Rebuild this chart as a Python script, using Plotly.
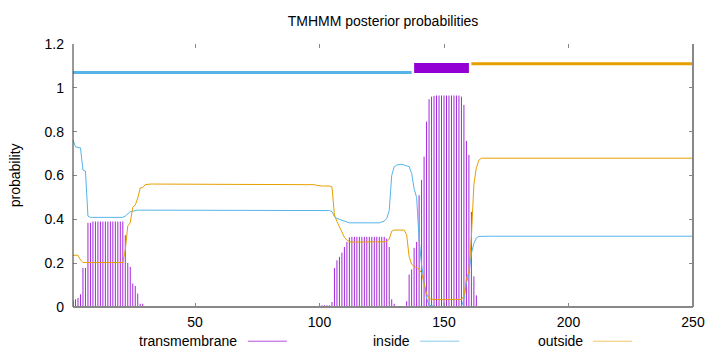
import plotly.graph_objects as go

# ---------------- data ----------------
residues = list(range(1, 251))

prob_transmembrane = [
    0.03, 0.035, 0.041, 0.058, 0.178, 0.178, 0.384, 0.384, 0.39, 0.39,
    0.39, 0.39, 0.39, 0.39, 0.39, 0.39, 0.39, 0.39, 0.39, 0.39,
    0.39, 0.328, 0.201, 0.183, 0.107, 0.096, 0.061, 0.015, 0.015, 0,
    0, 0, 0, 0, 0, 0, 0, 0, 0, 0,
    0, 0, 0, 0, 0, 0, 0, 0, 0, 0,
    0, 0, 0, 0, 0, 0, 0, 0, 0, 0,
    0, 0, 0, 0, 0, 0, 0, 0, 0, 0,
    0, 0, 0, 0, 0, 0, 0, 0, 0, 0,
    0, 0, 0, 0, 0, 0, 0, 0, 0, 0,
    0, 0, 0, 0, 0, 0, 0, 0, 0, 0.008,
    0.008, 0.008, 0.008, 0.008, 0.023, 0.178, 0.213, 0.229, 0.248, 0.274,
    0.297, 0.317, 0.32, 0.32, 0.32, 0.32, 0.32, 0.32, 0.32, 0.32,
    0.32, 0.32, 0.32, 0.32, 0.32, 0.32, 0.312, 0.274, 0.035, 0.015,
    0, 0, 0, 0, 0.026, 0.148, 0.171, 0.27, 0.297, 0.51,
    0.579, 0.686, 0.846, 0.948, 0.96, 0.963, 0.965, 0.965, 0.965, 0.965,
    0.965, 0.965, 0.965, 0.965, 0.965, 0.965, 0.96, 0.922, 0.758, 0.694,
    0.434, 0.14, 0.053, 0, 0, 0, 0, 0, 0, 0,
    0, 0, 0, 0, 0, 0, 0, 0, 0, 0,
    0, 0, 0, 0, 0, 0, 0, 0, 0, 0,
    0, 0, 0, 0, 0, 0, 0, 0, 0, 0,
    0, 0, 0, 0, 0, 0, 0, 0, 0, 0,
    0, 0, 0, 0, 0, 0, 0, 0, 0, 0,
    0, 0, 0, 0, 0, 0, 0, 0, 0, 0,
    0, 0, 0, 0, 0, 0, 0, 0, 0, 0,
    0, 0, 0, 0, 0, 0, 0, 0, 0, 0,
]

prob_inside = [
    0.762, 0.731, 0.728, 0.726, 0.625, 0.62, 0.415, 0.409, 0.409, 0.409,
    0.409, 0.409, 0.409, 0.409, 0.409, 0.409, 0.409, 0.409, 0.409, 0.409,
    0.409, 0.415, 0.425, 0.435, 0.437, 0.44, 0.442, 0.442, 0.442, 0.442,
    0.442, 0.442, 0.442, 0.442, 0.442, 0.442, 0.442, 0.442, 0.442, 0.442,
    0.442, 0.442, 0.442, 0.442, 0.442, 0.442, 0.442, 0.442, 0.442, 0.442,
    0.442, 0.442, 0.442, 0.442, 0.442, 0.442, 0.442, 0.442, 0.442, 0.442,
    0.442, 0.442, 0.442, 0.442, 0.442, 0.442, 0.442, 0.442, 0.442, 0.442,
    0.442, 0.442, 0.442, 0.442, 0.442, 0.442, 0.442, 0.442, 0.442, 0.442,
    0.442, 0.442, 0.442, 0.442, 0.442, 0.442, 0.442, 0.442, 0.442, 0.442,
    0.442, 0.442, 0.442, 0.442, 0.442, 0.442, 0.442, 0.44, 0.44, 0.44,
    0.44, 0.44, 0.44, 0.44, 0.435, 0.412, 0.404, 0.4, 0.395, 0.39,
    0.386, 0.384, 0.384, 0.384, 0.384, 0.384, 0.384, 0.384, 0.384, 0.384,
    0.384, 0.384, 0.384, 0.384, 0.388, 0.392, 0.404, 0.44, 0.6, 0.64,
    0.648, 0.651, 0.651, 0.648, 0.645, 0.64, 0.61, 0.54, 0.5, 0.31,
    0.19, 0.11, 0.04, 0.008, 0.005, 0.002, 0.002, 0.002, 0.002, 0.002,
    0.002, 0.002, 0.002, 0.002, 0.002, 0.002, 0.002, 0.035, 0.11, 0.15,
    0.245, 0.29, 0.315, 0.322, 0.323, 0.323, 0.323, 0.323, 0.323, 0.323,
    0.323, 0.323, 0.323, 0.323, 0.323, 0.323, 0.323, 0.323, 0.323, 0.323,
    0.323, 0.323, 0.323, 0.323, 0.323, 0.323, 0.323, 0.323, 0.323, 0.323,
    0.323, 0.323, 0.323, 0.323, 0.323, 0.323, 0.323, 0.323, 0.323, 0.323,
    0.323, 0.323, 0.323, 0.323, 0.323, 0.323, 0.323, 0.323, 0.323, 0.323,
    0.323, 0.323, 0.323, 0.323, 0.323, 0.323, 0.323, 0.323, 0.323, 0.323,
    0.323, 0.323, 0.323, 0.323, 0.323, 0.323, 0.323, 0.323, 0.323, 0.323,
    0.323, 0.323, 0.323, 0.323, 0.323, 0.323, 0.323, 0.323, 0.323, 0.323,
    0.323, 0.323, 0.323, 0.323, 0.323, 0.323, 0.323, 0.323, 0.323, 0.323,
]

prob_outside = [
    0.236, 0.236, 0.236, 0.215, 0.203, 0.203, 0.203, 0.203, 0.203, 0.203,
    0.203, 0.203, 0.203, 0.203, 0.203, 0.203, 0.203, 0.203, 0.203, 0.203,
    0.203, 0.26, 0.37, 0.385, 0.455, 0.465, 0.497, 0.543, 0.545, 0.558,
    0.561, 0.561, 0.561, 0.561, 0.561, 0.561, 0.561, 0.561, 0.561, 0.561,
    0.561, 0.561, 0.561, 0.561, 0.561, 0.561, 0.561, 0.561, 0.561, 0.561,
    0.561, 0.561, 0.561, 0.561, 0.561, 0.561, 0.561, 0.561, 0.561, 0.561,
    0.561, 0.561, 0.561, 0.561, 0.561, 0.561, 0.561, 0.561, 0.561, 0.561,
    0.561, 0.561, 0.561, 0.561, 0.561, 0.561, 0.561, 0.561, 0.561, 0.561,
    0.561, 0.561, 0.561, 0.561, 0.561, 0.561, 0.561, 0.561, 0.561, 0.561,
    0.561, 0.561, 0.561, 0.561, 0.561, 0.561, 0.561, 0.558, 0.555, 0.552,
    0.552, 0.552, 0.552, 0.552, 0.548, 0.42, 0.39, 0.366, 0.34, 0.318,
    0.305, 0.298, 0.296, 0.296, 0.296, 0.296, 0.296, 0.296, 0.296, 0.296,
    0.296, 0.296, 0.296, 0.296, 0.296, 0.296, 0.298, 0.31, 0.346, 0.351,
    0.351, 0.351, 0.351, 0.351, 0.33, 0.23, 0.195, 0.185, 0.18, 0.172,
    0.155, 0.105, 0.06, 0.038, 0.035, 0.034, 0.034, 0.034, 0.034, 0.034,
    0.034, 0.034, 0.034, 0.034, 0.034, 0.034, 0.034, 0.05, 0.13, 0.16,
    0.32, 0.56, 0.635, 0.67, 0.679, 0.679, 0.679, 0.679, 0.679, 0.679,
    0.679, 0.679, 0.679, 0.679, 0.679, 0.679, 0.679, 0.679, 0.679, 0.679,
    0.679, 0.679, 0.679, 0.679, 0.679, 0.679, 0.679, 0.679, 0.679, 0.679,
    0.679, 0.679, 0.679, 0.679, 0.679, 0.679, 0.679, 0.679, 0.679, 0.679,
    0.679, 0.679, 0.679, 0.679, 0.679, 0.679, 0.679, 0.679, 0.679, 0.679,
    0.679, 0.679, 0.679, 0.679, 0.679, 0.679, 0.679, 0.679, 0.679, 0.679,
    0.679, 0.679, 0.679, 0.679, 0.679, 0.679, 0.679, 0.679, 0.679, 0.679,
    0.679, 0.679, 0.679, 0.679, 0.679, 0.679, 0.679, 0.679, 0.679, 0.679,
    0.679, 0.679, 0.679, 0.679, 0.679, 0.679, 0.679, 0.679, 0.679, 0.679,
]

# predicted topology drawn above the curves
region_names = ["inside", "TMhelix", "outside"]
region_start = [1, 138, 161]
region_end = [137, 160, 250]
region_level = [1.07, 1.09, 1.11]

x_ticks = [50, 100, 150, 200, 250]
y_ticks = [0, 0.2, 0.4, 0.6, 0.8, 1.0, 1.2]
y_tick_labels = ["0", "0.2", "0.4", "0.6", "0.8", "1", "1.2"]

# ---------------- styles ----------------
FONT = "Liberation Sans, Arial, sans-serif"
C_TM = "#9400D3"
C_IN = "#56B4E9"
C_OUT = "#E69F00"
region_colors = {"inside": C_IN, "TMhelix": C_TM, "outside": C_OUT}
region_widths = {"inside": 3, "TMhelix": 10, "outside": 3}

fig = go.Figure()

# impulses for the transmembrane probability
imp_x, imp_y = [], []
for r, p in zip(residues, prob_transmembrane):
    imp_x += [r, r, None]
    imp_y += [0, p, None]
fig.add_trace(go.Scatter(x=imp_x, y=imp_y, mode="lines",
                         line=dict(color="rgba(148,0,211,0.85)", width=1),
                         name="transmembrane", hoverinfo="skip"))
fig.add_trace(go.Scatter(x=residues, y=prob_inside, mode="lines",
                         line=dict(color=C_IN, width=1), name="inside"))
fig.add_trace(go.Scatter(x=residues, y=prob_outside, mode="lines",
                         line=dict(color=C_OUT, width=1), name="outside"))

for name, s, e, lev in zip(region_names, region_start, region_end, region_level):
    fig.add_trace(go.Scatter(x=[s, e], y=[lev, lev], mode="lines",
                             line=dict(color=region_colors[name], width=region_widths[name]),
                             showlegend=False, hoverinfo="skip"))

# borders
shapes = [
    dict(type="line", xref="paper", yref="paper", x0=0, x1=0, y0=0, y1=1,
         line=dict(color="#333333", width=1)),
    dict(type="line", xref="paper", yref="paper", x0=0, x1=1, y0=0, y1=0,
         line=dict(color="#888888", width=2)),
    dict(type="line", xref="paper", yref="paper", x0=1, x1=1, y0=0, y1=1,
         line=dict(color="#888888", width=2)),
]

# gnuplot-style key (label then sample line) below the axis
legend_items = [("transmembrane", "rgba(148,0,211,0.7)", 0.268),
                ("inside", "rgba(86,180,233,0.7)", 0.546),
                ("outside", "rgba(230,159,0,0.6)", 0.825)]
annotations = []
for label, col, xr in legend_items:
    annotations.append(dict(text=label, xref="paper", yref="paper", x=xr, y=-0.13,
                            xanchor="right", yanchor="middle", showarrow=False,
                            font=dict(family=FONT, size=14, color="#000")))
    shapes.append(dict(type="line", xref="paper", yref="paper",
                       x0=xr + 0.014, x1=xr + 0.077, y0=-0.13, y1=-0.13,
                       line=dict(color=col, width=1)))

annotations.append(dict(text="probability", xref="paper", yref="paper",
                        x=-0.094, y=0.5, textangle=-90, showarrow=False,
                        xanchor="center", yanchor="middle",
                        font=dict(family=FONT, size=14, color="#000")))

fig.update_layout(
    width=720, height=352,
    margin=dict(l=73, r=27, t=44, b=45),
    paper_bgcolor="white", plot_bgcolor="white",
    showlegend=False,
    title=dict(text="TMHMM posterior probabilities", x=0.5, xref="paper",
               y=1 - 21 / 352, yanchor="middle", xanchor="center",
               font=dict(family=FONT, size=14, color="#000")),
    font=dict(family=FONT, size=14, color="#000"),
    shapes=shapes,
    annotations=annotations,
)
fig.update_xaxes(range=[1, 250], tickvals=x_ticks, ticks="inside", ticklen=4,
                 tickcolor="#888888", mirror="ticks", showgrid=False,
                 zeroline=False, showline=False, ticklabelstandoff=5)
fig.update_yaxes(range=[0, 1.2], tickvals=y_ticks, ticktext=y_tick_labels,
                 ticks="inside", ticklen=4, tickcolor="#888888", mirror="ticks",
                 showgrid=False, zeroline=False, showline=False,
                 ticklabelstandoff=8)

fig.write_html("out.html")
